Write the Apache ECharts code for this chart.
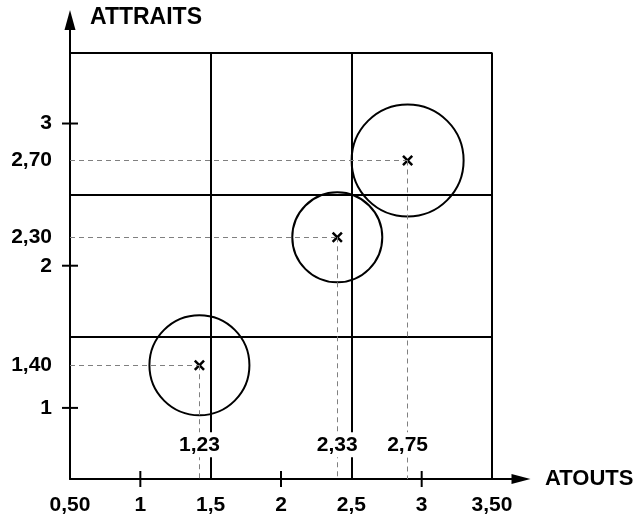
<!DOCTYPE html>
<html>
<head>
<meta charset="utf-8">
<script src="https://cdn.jsdelivr.net/npm/echarts@6/dist/echarts.min.js"></script>
<style>
  html, body { margin: 0; padding: 0; background: #fff; }
  #chart { width: 637px; height: 518px; }
</style>
</head>
<body>
<div id="chart"></div>
<script>
// positions des trois activités telles que placées sur le schéma
const atouts = [1.42, 2.40, 2.90];
const attraits = [1.30, 2.20, 2.74];
const poids = [50, 45, 56]; // taille relative des bulles
// valeurs inscrites sur le schéma
const atoutsTexte = ['1,23', '2,33', '2,75'];
const attraitsTexte = ['1,40', '2,30', '2,70'];

// graduations
const xTicks = [0.5, 1, 1.5, 2, 2.5, 3, 3.5];
const xTickLabels = ['0,50', '1', '1,5', '2', '2,5', '3', '3,50'];
const yTicks = [1, 2, 3];
const yTickLabels = ['1', '2', '3'];
const xMarks = [1, 2, 3];
const yMarks = [1, 2, 3];

// découpage de la matrice
const cadre = [0.5, 3.5];
const separations = [1.5, 2.5];

const police = '"Liberation Sans", Arial, Helvetica, sans-serif';
const texteGras = { color: '#000', fontSize: 21, fontWeight: 'bold', fontFamily: police };

const chart = echarts.init(document.getElementById('chart'), null, { renderer: 'canvas' });

// lignes pleines (cadre + séparations)
let lignes = []
separations.concat([cadre[1]]).forEach(v => {
  lignes.push([{ coord: [v, cadre[0]] }, { coord: [v, cadre[1]] }])
  lignes.push([{ coord: [cadre[0], v] }, { coord: [cadre[1], v] }])
})
// pointillés vers les axes
const pointilles = { type: [5, 4], color: '#808080', width: 1 }
atouts.forEach((x, i) => {
  lignes.push([
    { coord: [cadre[0], attraits[i]], lineStyle: pointilles,
      label: { show: true, position: 'start', distance: 18, formatter: attraitsTexte[i], ...texteGras } },
    { coord: [x, attraits[i]] }
  ])
  lignes.push([
    { coord: [x, attraits[i]], lineStyle: pointilles },
    { coord: [x, cadre[0]] }
  ])
})

const graduations = xMarks.map(v => [v, cadre[0], 0]).concat(yMarks.map(v => [cadre[0], v, 1]))

const option = {
  animation: false,
  backgroundColor: '#fff',
  grid: { left: 70, right: 116, top: 20, bottom: 39, containLabel: false, outerBoundsMode: 'none' },
  xAxis: {
    type: 'value',
    min: 0.5,
    max: 3.706,
    name: 'ATOUTS',
    nameLocation: 'end',
    nameGap: 24,
    nameTextStyle: { color: '#000', fontSize: 22, fontWeight: 'bold', fontFamily: police, padding: [0, 0, 14, 0] },
    axisLine: { show: true, onZero: false, symbol: ['none', 'triangle'], symbolSize: [10, 19], lineStyle: { color: '#000', width: 2 } },
    axisTick: { show: false },
    splitLine: { show: false },
    axisLabel: {
      customValues: xTicks,
      margin: 16,
      ...texteGras,
      formatter: v => xTickLabels[xTicks.indexOf(v)]
    }
  },
  yAxis: {
    type: 'value',
    min: 0.5,
    max: 3.728,
    name: 'ATTRAITS',
    nameLocation: 'end',
    nameGap: 2,
    nameTextStyle: { color: '#000', fontSize: 23, fontWeight: 'bold', fontFamily: police, align: 'left', verticalAlign: 'middle', padding: [0, 0, 0, 20] },
    axisLine: { show: true, onZero: false, symbol: ['none', 'triangle'], symbolSize: [11, 20], lineStyle: { color: '#000', width: 2 } },
    axisTick: { show: false },
    splitLine: { show: false },
    axisLabel: {
      customValues: yTicks,
      margin: 18,
      ...texteGras,
      formatter: v => yTickLabels[yTicks.indexOf(v)]
    }
  },
  series: [
    {
      name: 'bulles',
      type: 'scatter',
      silent: true,
      z: 3,
      data: atouts.map((x, i) => [x, attraits[i], poids[i]]),
      symbol: 'circle',
      symbolSize: v => v[2] * 2,
      itemStyle: { color: 'rgba(0,0,0,0)', borderColor: '#000', borderWidth: 2, opacity: 1 }
    },
    {
      name: 'points',
      type: 'scatter',
      silent: true,
      z: 4,
      data: atouts.map((x, i) => [x, attraits[i]]),
      symbol: 'path://M0,1.6L1.6,0L5,3.4L8.4,0L10,1.6L6.6,5L10,8.4L8.4,10L5,6.6L1.6,10L0,8.4L3.4,5Z',
      symbolSize: 11,
      itemStyle: { color: '#000', opacity: 1 },
      markLine: {
        silent: true,
        symbol: ['none', 'none'],
        label: { show: false },
        lineStyle: { color: '#000', width: 2, type: 'solid', opacity: 1 },
        data: lignes
      }
    },
    {
      // valeurs des atouts posées sur les pointillés
      name: 'valeurs',
      type: 'scatter',
      silent: true,
      z: 5,
      data: atouts.map(x => [x, 0.74]),
      symbolSize: 0,
      itemStyle: { opacity: 1 },
      label: {
        show: true,
        position: 'inside',
        ...texteGras,
        opacity: 1,
        backgroundColor: '#fff',
        padding: [2, 1],
        formatter: p => atoutsTexte[p.dataIndex]
      }
    },
    {
      // petites graduations qui traversent les axes
      name: 'graduations',
      type: 'custom',
      silent: true,
      z: 6,
      clip: false,
      data: graduations,
      renderItem: (params, api) => {
        const p = api.coord([api.value(0), api.value(1)])
        const vertical = api.value(2) === 0
        return {
          type: 'line',
          shape: vertical
            ? { x1: p[0], y1: p[1] - 8, x2: p[0], y2: p[1] + 8 }
            : { x1: p[0] - 8, y1: p[1], x2: p[0] + 8, y2: p[1] },
          style: { stroke: '#000', lineWidth: 2 }
        }
      }
    }
  ]
};
chart.setOption(option);
</script>
</body>
</html>
